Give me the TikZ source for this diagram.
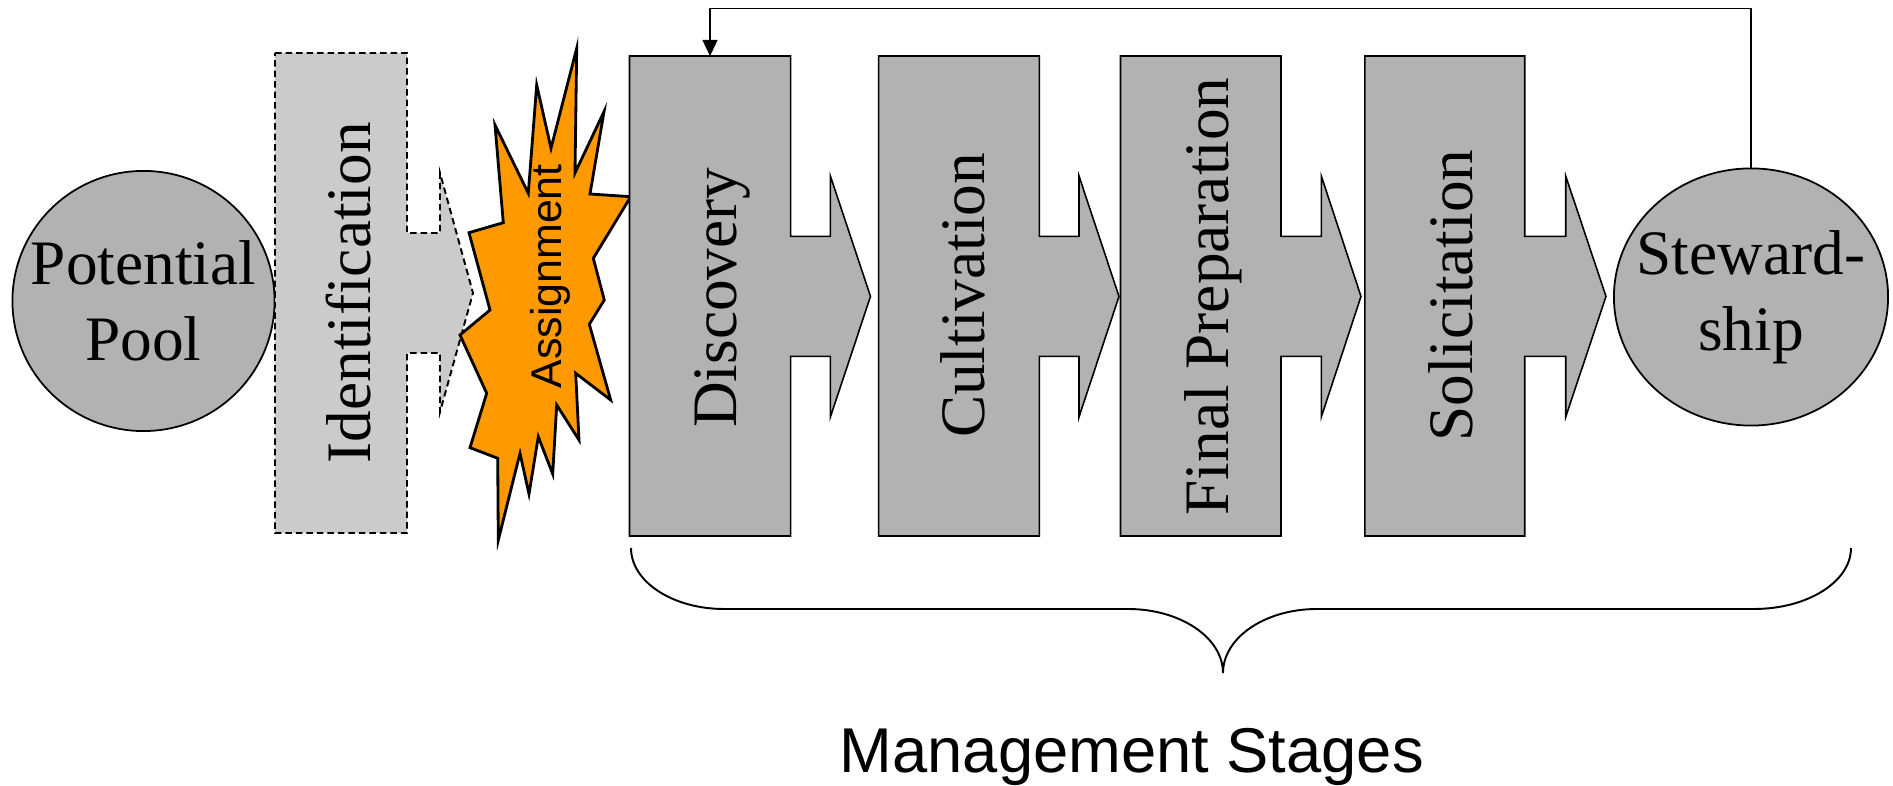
\documentclass[tikz,border=0pt]{standalone}
\usepackage{fontspec}
\setmainfont{Liberation Serif}
\newfontfamily\labelsans{Liberation Sans}
\usetikzlibrary{shapes.geometric,arrows.meta}

\definecolor{stagegray}{RGB}{178,178,178}
\definecolor{idgray}{RGB}{203,203,203}
\definecolor{burstorange}{RGB}{255,153,0}

\tikzset{
  stagebox/.style={draw=black, line width=0.45pt, fill=stagegray, line join=miter},
  idbox/.style={draw=black, line width=0.55pt, fill=idgray, dash pattern=on 0.065cm off 0.04cm},
  burst/.style={draw=black, line width=0.8pt, fill=burstorange, line join=miter},
  pool/.style={ellipse, draw=black, line width=0.5pt, fill=stagegray, inner sep=0pt},
  pooltext/.style={align=center, inner sep=0pt, font=\fontsize{18}{21.5}\selectfont},
  vlabel/.style={rotate=90, anchor=base, inner sep=0pt, font=\fontsize{18}{21.5}\selectfont},
  feedback/.style={draw=black, line width=0.4pt, -{Triangle[width=0.15cm,length=0.16cm]}},
  brace/.style={draw=black, line width=0.55pt},
}

% one stage: rectangle from x=#1 to #2 with an arrow (stem end #3, tip #4)
\newcommand{\stagearrow}[5]{%
  \path[#5] (#1,56) -- (#2,56) -- (#2,236.4) -- (#3,236.4) -- (#3,176) -- (#4,296.4)
    -- (#3,417) -- (#3,356.4) -- (#2,356.4) -- (#2,536) -- (#1,536) -- cycle;}

\begin{document}
\begin{tikzpicture}[x=0.01cm, y=-0.01cm]
\useasboundingbox (0,0) rectangle (1893,786);

% pool of prospects
\node[pool, minimum width=2.62cm, minimum height=2.60cm] (pool) at (143.5,301) {};
\node[pooltext] (pooltxt) at (pool.center) {Potential\\Pool};

% identification step (dashed)
\path[idbox] (275,53) -- (407,53) -- (407,233) -- (440,233) -- (440,173) -- (473,293)
  -- (440,412) -- (440,353) -- (407,353) -- (407,533) -- (275,533) -- cycle;
\node[vlabel] (ident) at (370.5,292.9) {Identification};

% assignment burst
\path[burst] (576.7,48.3) -- (575,173) -- (604,111.7) -- (590,194) -- (630.7,196.7)
  -- (593.3,258.3) -- (604.3,300) -- (589.3,324.3) -- (610.7,400) -- (575.7,373.3)
  -- (579,440) -- (556.7,405) -- (552.7,474) -- (538.3,436.7) -- (529,494)
  -- (520,453.3) -- (498.3,540) -- (497.7,458.3) -- (470,447.7) -- (486.7,393.3)
  -- (460,335) -- (490,310) -- (469,232.7) -- (503.3,222.7) -- (495,125)
  -- (528.3,193.3) -- (536.7,85) -- (551,148.3) -- cycle;
\node[rotate=90, anchor=base, inner sep=0pt, font=\labelsans\fontsize{12.2}{14}\selectfont]
  (assign) at (561.7,276.3) {Assignment};

% management stages
\stagearrow{629.5}{790.6}{830.4}{870.5}{stagebox}
\stagearrow{878.6}{1039.3}{1079}{1119}{stagebox}
\stagearrow{1120.5}{1281}{1321.3}{1361}{stagebox}
\stagearrow{1364.8}{1524.7}{1565.7}{1606}{stagebox}
\node[vlabel] (disc) at (736,297.8) {Discovery};
\node[vlabel] (cult) at (984.8,295.5) {Cultivation};
\node[vlabel] (prep) at (1228.6,296.4) {Final Preparation};
\node[vlabel] (solic) at (1472.6,295.7) {Solicitation};

\node[pool, minimum width=2.74cm, minimum height=2.57cm] (stew) at (1751,297) {};
\node[pooltext] (stewtxt) at (stew.center) {Steward-\\ship};

% loop back from stewardship to discovery
\coordinate (disctop) at (710,56);
\coordinate (looptop) at (710,8.3);
\draw[feedback] (stew.north) |- (looptop) -- (disctop);

% brace under the management stages
\draw[brace] (631,548) .. controls (631,581.7) and (672.7,609) .. (724,609) -- (1128,609)
  .. controls (1180.4,609) and (1223,637.7) .. (1223,673)
  .. controls (1223,637.7) and (1265,609) .. (1317,609) -- (1754,609)
  .. controls (1807.5,609) and (1851,581.7) .. (1851,548);
\node[anchor=base, inner sep=0pt, font=\labelsans\fontsize{18}{21.5}\selectfont]
  (mgmt) at (1131.8,773) {Management Stages};
\end{tikzpicture}
\end{document}
